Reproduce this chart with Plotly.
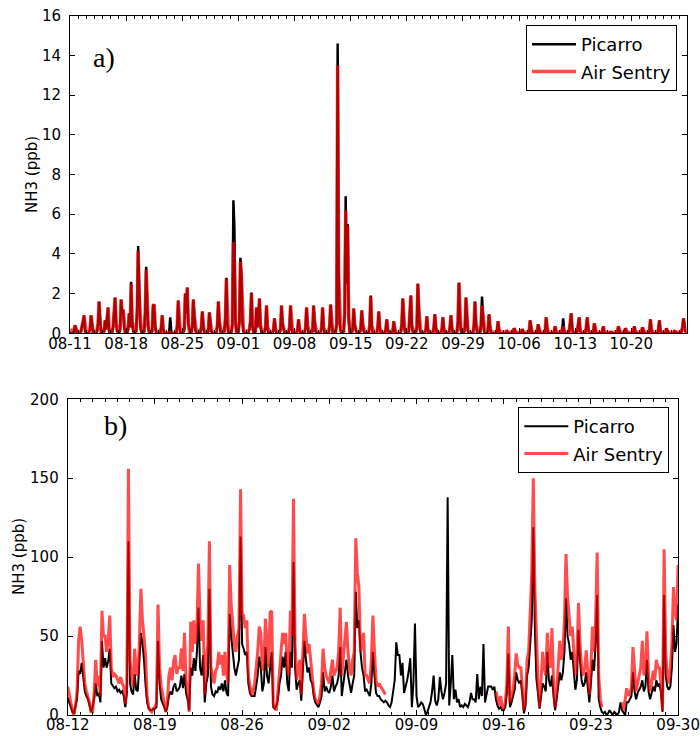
import pandas as pd
import plotly.graph_objects as go

# ---------------------------------------------------------------------------
# NH3 concentrations (ppb), 3-hourly values, one row per day
# columns: 00h 03h 06h 09h 12h 15h 18h 21h
# ---------------------------------------------------------------------------
top_start = "2016-08-11"
bottom_start = "2016-08-12"

top_picarro_rows = [
    [0, 0, 0, 0.05, 0.1, 0.4, 0.1, 0],
    [0, 0, 0, 0.1, 0.3, 0.6, 0.9, 0.1],
    [0, 0, 0, 0.05, 0.2, 0.9, 0.5, 0.05],
    [0, 0, 0, 0.1, 0.5, 1.6, 0.4, 0.05],
    [0, 0, 0.1, 0.65, 0.2, 0.7, 1.3, 0.1],
    [0, 0, 0.05, 0.3, 0.9, 1.8, 0.5, 0.1],
    [0.05, 0, 0.2, 1.7, 1.0, 1.2, 0.3, 0.05],
    [0, 0, 0.2, 1.0, 0.3, 2.6, 0.6, 0.1],
    [0.05, 0, 0.1, 1.2, 4.4, 2.0, 0.5, 0.1],
    [0, 0, 0.1, 1.0, 3.35, 1.5, 0.3, 0.05],
    [0, 0, 0.1, 1.45, 1.4, 0.3, 0.05, 0],
    [0, 0, 0, 0.3, 0.9, 0.2, 0, 0],
    [0, 0, 0, 0.1, 0.8, 0.1, 0, 0],
    [0, 0, 0, 0.4, 1.65, 0.4, 0.05, 0],
    [0, 0, 0.2, 2.0, 1.0, 2.3, 0.5, 0.1],
    [0, 0, 0.3, 1.7, 0.9, 0.2, 0, 0],
    [0, 0, 0, 0.3, 1.1, 0.4, 0, 0],
    [0, 0, 0.1, 1.05, 0.6, 0.1, 0, 0],
    [0, 0, 0, 0.4, 1.6, 0.6, 0.1, 0],
    [0, 0, 0.1, 0.8, 2.8, 0.5, 0.05, 0],
    [0, 0, 0.5, 6.7, 5.3, 0.6, 0.1, 0],
    [0.1, 0.6, 3.8, 2.9, 0.6, 0.1, 0, 0],
    [0, 0, 0.05, 0.2, 0.6, 2.05, 0.4, 0],
    [0, 0.1, 1.3, 0.3, 0.8, 1.75, 0.4, 0],
    [0, 0, 0, 0.3, 1.4, 0.3, 0, 0],
    [0, 0, 0, 0.2, 0.75, 0.2, 0, 0],
    [0, 0, 0.2, 1.4, 0.5, 0.1, 0, 0],
    [0, 0, 0, 0.3, 1.4, 0.3, 0, 0],
    [0, 0, 0, 0.2, 0.7, 0.2, 0, 0],
    [0, 0, 0, 0.3, 1.3, 0.4, 0, 0],
    [0, 0, 0.1, 1.4, 0.6, 0.1, 0, 0],
    [0, 0, 0, 0.3, 1.3, 0.3, 0, 0],
    [0, 0, 0, 0.4, 1.45, 0.5, 0.05, 0],
    [0, 0, 0.5, 14.6, 3.0, 0.5, 0.1, 0],
    [0, 0.1, 1.0, 6.9, 2.5, 5.5, 0.8, 0.1],
    [0, 0, 0.2, 1.25, 0.4, 0.1, 0, 0],
    [0, 0, 0.2, 1.15, 0.5, 0.1, 0, 0],
    [0, 0, 0, 0.4, 1.9, 0.4, 0, 0],
    [0, 0, 0, 0.3, 1.1, 0.3, 0, 0],
    [0, 0, 0, 0.2, 0.7, 0.2, 0, 0],
    [0, 0, 0.1, 0.6, 0.2, 0, 0, 0],
    [0, 0, 0, 0.5, 1.75, 0.6, 0.1, 0],
    [0, 0, 0.1, 1.0, 1.9, 0.4, 0.05, 0],
    [0, 0, 0.3, 2.5, 1.2, 0.2, 0, 0],
    [0, 0, 0, 0.2, 0.85, 0.2, 0, 0],
    [0, 0, 0, 0.3, 0.95, 0.3, 0, 0],
    [0, 0, 0, 0.2, 0.8, 0.2, 0, 0],
    [0, 0, 0, 0.3, 0.9, 0.3, 0, 0],
    [0, 0, 0, 0.6, 2.55, 0.7, 0.1, 0],
    [0, 0, 0.3, 1.8, 0.8, 0.1, 0, 0],
    [0, 0, 0, 0.4, 1.6, 0.5, 0.05, 0],
    [0, 0, 0.4, 1.85, 0.9, 0.1, 0, 0],
    [0, 0.2, 0.95, 0.3, 0.05, 0, 0, 0],
    [0, 0, 0.1, 0.6, 0.2, 0, 0, 0],
    [0, 0, 0, 0.05, 0.1, 0, 0, 0],
    [0, 0, 0, 0.25, 0.1, 0, 0, 0],
    [0, 0, 0, 0.2, 0.1, 0, 0, 0],
    [0, 0, 0, 0.65, 0.3, 0, 0, 0],
    [0, 0, 0, 0.45, 0.2, 0, 0, 0],
    [0, 0, 0.1, 0.8, 0.3, 0, 0, 0],
    [0, 0, 0, 0.1, 0.35, 0.05, 0, 0],
    [0, 0, 0, 0.2, 0.75, 0.1, 0, 0],
    [0, 0, 0.1, 0.5, 1.0, 0.2, 0, 0],
    [0, 0, 0.1, 0.4, 0.8, 0.1, 0, 0],
    [0, 0, 0, 0.3, 0.8, 0.2, 0, 0],
    [0, 0, 0, 0.5, 0.2, 0, 0, 0],
    [0, 0, 0, 0.1, 0.35, 0.05, 0, 0],
    [0, 0, 0, 0.05, 0.05, 0, 0, 0],
    [0, 0, 0, 0.35, 0.1, 0, 0, 0],
    [0, 0, 0.25, 0.1, 0, 0, 0, 0],
    [0, 0, 0.1, 0.35, 0.05, 0, 0, 0],
    [0, 0, 0, 0.3, 0.1, 0, 0, 0],
    [0, 0, 0.1, 0.7, 0.2, 0, 0, 0],
    [0, 0, 0, 0.2, 0.65, 0.1, 0, 0],
    [0, 0, 0, 0.25, 0.05, 0, 0, 0],
    [0, 0, 0, 0.1, 0.05, 0, 0, 0],
    [0, 0, 0.1, 0.3, 0.75, 0.4, 0.1, 0],
]

top_airsentry_rows = [
    [0.2, 0.15, 0.1, 0.15, 0.2, 0.4, 0.2, 0.1],
    [0.1, 0.05, 0.05, 0.1, 0.3, 0.6, 0.9, 0.2],
    [0.1, 0.05, 0.05, 0.1, 0.25, 0.9, 0.5, 0.1],
    [0.1, 0.05, 0.1, 0.15, 0.5, 1.6, 0.4, 0.1],
    [0.1, 0.05, 0.1, 0.65, 0.2, 0.7, 1.3, 0.2],
    [0.1, 0.1, 0.1, 0.3, 0.9, 1.8, 0.5, 0.2],
    [0.1, 0.05, 0.2, 1.7, 1.0, 1.2, 0.4, 0.1],
    [0.1, 0.1, 0.2, 1.0, 0.3, 2.5, 0.6, 0.2],
    [0.1, 0.05, 0.1, 1.1, 4.15, 1.9, 0.5, 0.2],
    [0.1, 0.05, 0.1, 1.0, 3.2, 1.5, 0.35, 0.1],
    [0.1, 0.05, 0.2, 1.4, 1.45, 0.3, 0.1, 0.1],
    [0.1, 0.05, 0.05, 0.3, 0.9, 0.2, 0.05, 0.05],
    [0.02, 0, 0, 0, 0.05, 0, 0, 0],
    [0, 0, 0.05, 0.4, 1.65, 0.4, 0.1, 0.1],
    [0.1, 0.1, 0.2, 2.0, 1.0, 2.3, 0.5, 0.1],
    [0.1, 0.05, 0.3, 1.7, 0.9, 0.3, 0.1, 0.05],
    [0.1, 0.05, 0.1, 0.3, 1.1, 0.4, 0.1, 0.1],
    [0.1, 0.05, 0.15, 1.05, 0.6, 0.15, 0.1, 0.05],
    [0.05, 0.05, 0.1, 0.4, 1.6, 0.6, 0.2, 0.1],
    [0.1, 0.05, 0.1, 0.8, 2.75, 0.5, 0.1, 0.1],
    [0.1, 0.05, 0.5, 4.6, 3.6, 0.6, 0.1, 0.1],
    [0.1, 0.6, 3.6, 2.9, 0.6, 0.2, 0.1, 0.05],
    [0.1, 0.05, 0.1, 0.2, 0.6, 2.0, 0.5, 0.1],
    [0.1, 0.1, 1.3, 0.3, 0.8, 1.75, 0.4, 0.1],
    [0.05, 0.05, 0.05, 0.3, 1.4, 0.35, 0.1, 0.05],
    [0.05, 0.05, 0.05, 0.2, 0.75, 0.2, 0.1, 0.05],
    [0.05, 0.05, 0.2, 1.4, 0.5, 0.15, 0.1, 0.05],
    [0.05, 0.05, 0.1, 0.3, 1.4, 0.35, 0.1, 0.05],
    [0.05, 0.05, 0.05, 0.2, 0.7, 0.2, 0.05, 0.05],
    [0.05, 0.05, 0.05, 0.3, 1.3, 0.4, 0.1, 0.05],
    [0.05, 0.05, 0.15, 1.4, 0.6, 0.15, 0.05, 0.05],
    [0.05, 0.05, 0.05, 0.3, 1.3, 0.3, 0.1, 0.05],
    [0.05, 0.05, 0.1, 0.4, 1.45, 0.5, 0.1, 0.1],
    [0.1, 0.1, 0.5, 13.5, 3.0, 0.5, 0.15, 0.1],
    [0.1, 0.1, 1.0, 6.2, 2.5, 5.4, 0.8, 0.1],
    [0.1, 0.05, 0.2, 1.25, 0.45, 0.1, 0.05, 0.05],
    [0.05, 0.05, 0.2, 1.15, 0.5, 0.15, 0.05, 0.05],
    [0.05, 0.05, 0.05, 0.4, 1.85, 0.4, 0.1, 0.05],
    [0.05, 0.05, 0.05, 0.3, 1.1, 0.3, 0.05, 0.05],
    [0.05, 0.05, 0.05, 0.2, 0.7, 0.2, 0.05, 0.05],
    [0.05, 0.05, 0.1, 0.6, 0.25, 0.05, 0.05, 0.05],
    [0.05, 0.05, 0.1, 0.5, 1.75, 0.6, 0.15, 0.1],
    [0.1, 0.05, 0.1, 1.0, 1.9, 0.4, 0.1, 0.05],
    [0.05, 0.05, 0.3, 2.5, 1.2, 0.25, 0.1, 0.05],
    [0.05, 0.05, 0.05, 0.2, 0.85, 0.2, 0.05, 0.05],
    [0.05, 0.05, 0.05, 0.3, 0.95, 0.3, 0.05, 0.05],
    [0.05, 0.05, 0.05, 0.2, 0.8, 0.25, 0.05, 0.05],
    [0.05, 0.05, 0.05, 0.3, 0.9, 0.3, 0.05, 0.05],
    [0.05, 0.05, 0.1, 0.6, 2.55, 0.7, 0.15, 0.1],
    [0.1, 0.05, 0.3, 1.8, 0.8, 0.15, 0.05, 0.05],
    [0.05, 0.05, 0.05, 0.4, 1.6, 0.5, 0.1, 0.05],
    [0.05, 0.05, 0.4, 1.4, 0.9, 0.15, 0.05, 0.05],
    [0.05, 0.2, 0.95, 0.35, 0.05, 0.05, 0.05, 0.05],
    [0.05, 0.05, 0.1, 0.6, 0.2, 0.05, 0.05, 0.05],
    [0.05, 0.05, 0.05, 0.1, 0.1, 0.05, 0.05, 0.05],
    [0.05, 0.05, 0.05, 0.25, 0.1, 0.05, 0.05, 0.05],
    [0.05, 0.05, 0.05, 0.2, 0.1, 0.05, 0.05, 0.05],
    [0.05, 0.05, 0.1, 0.65, 0.3, 0.05, 0.05, 0.05],
    [0.05, 0.05, 0.05, 0.45, 0.2, 0.05, 0.05, 0.05],
    [0.05, 0.05, 0.1, 0.8, 0.3, 0.05, 0.05, 0.05],
    [0.05, 0.05, 0.05, 0.1, 0.35, 0.1, 0.05, 0.05],
    [0.05, 0.05, 0.05, 0.2, 0.35, 0.1, 0.05, 0.05],
    [0.05, 0.05, 0.1, 0.5, 1.0, 0.2, 0.05, 0.05],
    [0.05, 0.05, 0.1, 0.4, 0.8, 0.15, 0.05, 0.05],
    [0.05, 0.05, 0.05, 0.3, 0.8, 0.2, 0.05, 0.05],
    [0.05, 0.05, 0.05, 0.5, 0.2, 0.05, 0.05, 0.05],
    [0.05, 0.05, 0.05, 0.1, 0.35, 0.1, 0.05, 0.05],
    [0.05, 0.05, 0.05, 0.05, 0.05, 0.05, 0.05, 0.05],
    [0.05, 0.05, 0.05, 0.35, 0.1, 0.05, 0.05, 0.05],
    [0.05, 0.05, 0.25, 0.1, 0.05, 0.05, 0.05, 0.05],
    [0.05, 0.05, 0.1, 0.35, 0.05, 0.05, 0.05, 0.05],
    [0.05, 0.05, 0.05, 0.3, 0.1, 0.05, 0.05, 0.05],
    [0.05, 0.05, 0.1, 0.7, 0.2, 0.05, 0.05, 0.05],
    [0.05, 0.05, 0.05, 0.2, 0.65, 0.1, 0.05, 0.05],
    [0.05, 0.05, 0.05, 0.25, 0.05, 0.05, 0.05, 0.05],
    [0.05, 0.05, 0.05, 0.1, 0.05, 0.05, 0.05, 0.05],
    [0.05, 0.05, 0.1, 0.3, 0.75, 0.4, 0.1, 0.05],
]

bottom_picarro_rows = [
    [11, 8, 6, 2, 1, 5, 10, 28],
    [26, 33, 22, 15, 12, 10, 6, 2],
    [5, 10, 20, 12, 14, 8, 47, 30],
    [36, 30, 34, 42, 20, 18, 17, 18],
    [15, 16, 14, 15, 12, 5, 14, 110],
    [20, 15, 13, 26, 16, 15, 30, 52],
    [45, 35, 19, 8, 4, 3, 3, 4],
    [4, 5, 47, 20, 10, 8, 5, 2],
    [5, 12, 15, 13, 18, 20, 15, 16],
    [18, 25, 17, 26, 14, 10, 3, 30],
    [25, 36, 28, 40, 68, 30, 25, 38],
    [8, 20, 25, 80, 18, 13, 12, 15],
    [14, 18, 16, 20, 15, 22, 14, 12],
    [64, 50, 40, 30, 25, 30, 35, 113],
    [45, 42, 38, 40, 20, 14, 12, 12],
    [12, 18, 25, 37, 30, 15, 20, 43],
    [25, 20, 32, 40, 5, 4, 6, 10],
    [20, 25, 37, 30, 40, 20, 15, 40],
    [30, 97, 30, 16, 20, 22, 9, 25],
    [47, 35, 27, 30, 22, 20, 12, 8],
    [6, 5, 8, 12, 27, 15, 18, 15],
    [14, 18, 25, 15, 18, 20, 25, 43],
    [12, 20, 28, 35, 25, 18, 14, 20],
    [25, 78, 55, 60, 40, 30, 25, 15],
    [16, 14, 12, 20, 40, 25, 14, 12],
    [12, 10, 9, 8, 9, 8, 6, 5],
    [8, 16, 22, 46, 38, 38, 25, 33],
    [14, 18, 22, 28, 36, 5, 20, 58],
    [12, 5, 6, 8, 7, 4, 0, 2],
    [5, 8, 15, 25, 9, 6, 10, 24],
    [15, 10, 14, 20, 138, 6, 20, 38],
    [10, 16, 8, 10, 5, 6, 5, 7],
    [6, 5, 8, 14, 10, 10, 8, 26],
    [10, 18, 12, 45, 8, 14, 18, 18],
    [18, 16, 18, 10, 6, 4, 5, 3],
    [3, 5, 14, 39, 5, 8, 12, 16],
    [27, 22, 20, 22, 12, 1, 6, 25],
    [30, 45, 60, 119, 55, 23, 12, 4],
    [12, 20, 18, 15, 40, 22, 18, 25],
    [12, 3, 10, 18, 27, 22, 27, 40],
    [74, 50, 45, 35, 40, 28, 16, 22],
    [54, 35, 22, 18, 20, 27, 15, 8],
    [20, 35, 28, 45, 76, 10, 5, 2],
    [1, 2, 0, 1, 3, 1, 0, 2],
    [1, 0, 2, 8, 3, 1, 0, 8],
    [8, 10, 12, 27, 15, 10, 14, 16],
    [18, 22, 15, 18, 35, 15, 10, 14],
    [18, 15, 22, 18, 20, 14, 2, 76],
    [25, 18, 16, 18, 30, 57, 40, 45],
    [70],
]

N = None  # no Air Sentry record
bottom_airsentry_rows = [
    [18, 12, 8, 3, 0, 6, 15, 47],
    [56, 47, 30, 20, 15, 12, 8, 2],
    [2, 15, 35, 18, 25, 12, 66, 50],
    [50, 40, 47, 63, 30, 24, 26, 25],
    [22, 20, 24, 20, 18, 7, 20, 156],
    [35, 24, 18, 42, 28, 25, 45, 80],
    [60, 50, 38, 12, 5, 3, 2, 4],
    [5, 8, 70, 30, 18, 13, 6, 2],
    [8, 25, 30, 22, 34, 38, 26, 30],
    [30, 42, 28, 52, 22, 17, 2, 59],
    [40, 60, 45, 55, 96, 60, 47, 60],
    [13, 35, 45, 110, 30, 25, 20, 28],
    [30, 40, 32, 38, 25, 40, 26, 20],
    [95, 70, 57, 45, 40, 50, 55, 143],
    [64, 63, 55, 60, 25, 18, 12, 15],
    [20, 30, 40, 56, 52, 28, 35, 61],
    [45, 30, 65, 66, 7, 5, 3, 15],
    [30, 40, 52, 45, 52, 30, 25, 66],
    [50, 137, 45, 22, 30, 35, 13, 40],
    [64, 50, 39, 45, 35, 28, 15, 10],
    [8, 7, 12, 20, 42, 30, 25, 22],
    [20, 28, 35, 25, 28, 30, 40, 68],
    [25, 35, 45, 59, 40, 30, 25, 35],
    [40, 112, 90, 81, 40, 45, 52, 25],
    [25, 22, 20, 35, 63, 40, 22, 18],
    [20, 18, 16, 14, 13, N, N, N],
    [N, N, N, N, N, N, N, N],
    [N, N, N, N, N, N, N, N],
    [N, N, N, N, N, N, N, N],
    [N, N, N, N, N, N, N, N],
    [N, N, N, N, N, N, N, N],
    [N, N, N, N, N, N, N, N],
    [N, N, N, N, N, N, N, N],
    [N, N, N, N, N, N, N, N],
    [N, N, N, 15, 10, 6, 12, 5],
    [4, 8, 20, 56, 8, 12, 16, 25],
    [39, 32, 30, 30, 15, 3, 10, 35],
    [40, 62, 90, 150, 80, 52, 20, 5],
    [20, 40, 30, 25, 52, 35, 30, 55],
    [20, 5, 15, 30, 47, 35, 40, 60],
    [102, 75, 59, 50, 56, 40, 25, 35],
    [71, 45, 30, 25, 30, 41, 25, 13],
    [30, 56, 40, 60, 103, 25, 10, 5],
    [N, N, N, N, N, N, N, N],
    [N, N, N, N, 8, 3, 10, 17],
    [12, 15, 17, 43, 25, 15, 20, 26],
    [30, 47, 25, 30, 53, 25, 15, 20],
    [28, 22, 35, 30, 30, 20, 3, 105],
    [40, 25, 20, 30, 45, 81, 66, 60],
    [95],
]

top_tick_labels = ["08-11", "08-18", "08-25", "09-01", "09-08", "09-15",
                   "09-22", "09-29", "10-06", "10-13", "10-20"]
bottom_tick_labels = ["08-12", "08-19", "08-26", "09-02", "09-09", "09-16",
                      "09-23", "09-30"]
top_yticks = [0, 2, 4, 6, 8, 10, 12, 14, 16]
bottom_yticks = [0, 50, 100, 150, 200]


def flatten(rows):
    return [v for row in rows for v in row]


top_p = flatten(top_picarro_rows)
top_a = flatten(top_airsentry_rows)
top_t = pd.date_range(top_start, periods=len(top_p), freq="3h")

bot_p = flatten(bottom_picarro_rows)
bot_a = flatten(bottom_airsentry_rows)
bot_t = pd.date_range(bottom_start, periods=len(bot_p), freq="3h")

BLACK = "#000000"
RED = "#ff0000"

fig = go.Figure()

# panel a)
fig.add_trace(go.Scatter(x=top_t, y=top_p, mode="lines", name="Picarro",
                         line=dict(color=BLACK, width=2.5), legendgroup="a1",
                         xaxis="x", yaxis="y", legend="legend"))
fig.add_trace(go.Scatter(x=top_t, y=top_a, mode="lines", name="Air Sentry",
                         line=dict(color=RED, width=3.5), opacity=0.7, legendgroup="a2",
                         xaxis="x", yaxis="y", legend="legend"))
# panel b)
fig.add_trace(go.Scatter(x=bot_t, y=bot_p, mode="lines", name="Picarro",
                         line=dict(color=BLACK, width=2), legendgroup="b1",
                         xaxis="x2", yaxis="y2", legend="legend2"))
fig.add_trace(go.Scatter(x=bot_t, y=bot_a, mode="lines", name="Air Sentry",
                         line=dict(color=RED, width=3), opacity=0.7, legendgroup="b2",
                         xaxis="x2", yaxis="y2", legend="legend2"))

W, H = 700, 736
FONT = "DejaVu Sans"
tick_font = dict(family=FONT, size=15, color="black")

axis_style = dict(
    showline=True, linecolor="black", linewidth=1, mirror="ticks",
    ticks="inside", ticklen=5, tickwidth=1, tickcolor="black",
    showgrid=False, zeroline=False, tickfont=tick_font, automargin=False,
)
minor_style = dict(ticks="inside", ticklen=3, tickwidth=1, tickcolor="black",
                   dtick=86400000, showgrid=False)


def tick_dates(labels):
    return [pd.Timestamp(f"2016-{lbl}") for lbl in labels]


legend_style = dict(xanchor="right", yanchor="top", bgcolor="white",
                    bordercolor="black", borderwidth=1, tracegroupgap=1,
                    itemwidth=44,
                    font=dict(family=FONT, size=18, color="black"))

fig.update_layout(
    template="none",
    width=W, height=H,
    margin=dict(l=0, r=0, t=0, b=0, autoexpand=False),
    paper_bgcolor="white", plot_bgcolor="white",
    font=dict(family=FONT, color="black"),
    xaxis=dict(axis_style, domain=[70 / W, 686.5 / W], anchor="y", type="date",
               range=[top_t[0], top_t[-1]], ticklabelstandoff=-3,
               tickvals=tick_dates(top_tick_labels), ticktext=top_tick_labels,
               minor=dict(minor_style, tick0=top_start)),
    yaxis=dict(axis_style, domain=[1 - 333.3 / H, 1 - 15.7 / H], anchor="x",
               range=[0, 16], tickvals=top_yticks, ticklabelstandoff=5),
    xaxis2=dict(axis_style, domain=[67.7 / W, 678.3 / W], anchor="y2", type="date",
                range=[bot_t[0], pd.Timestamp("2016-09-30 00:20")], ticklabelstandoff=-4,
                tickvals=tick_dates(bottom_tick_labels), ticktext=bottom_tick_labels,
                minor=dict(minor_style, tick0=bottom_start)),
    yaxis2=dict(axis_style, domain=[1 - 715 / H, 1 - 399.3 / H], anchor="x2",
                range=[0, 200], tickvals=bottom_yticks, ticklabelstandoff=5),
    legend=dict(legend_style, x=677 / W, y=1 - 25 / H),
    legend2=dict(legend_style, x=669.3 / W, y=1 - 407 / H),
    showlegend=True,
)

# y-axis titles and panel letters
fig.add_annotation(text="NH3 (ppb)", x=32 / W, y=1 - 175 / H, xref="paper", yref="paper",
                   textangle=-90, showarrow=False, xanchor="center", yanchor="middle",
                   font=dict(family=FONT, size=15, color="black"))
fig.add_annotation(text="NH3 (ppb)", x=19 / W, y=1 - 557 / H, xref="paper", yref="paper",
                   textangle=-90, showarrow=False, xanchor="center", yanchor="middle",
                   font=dict(family=FONT, size=15, color="black"))
fig.add_annotation(text="a)", x=104 / W, y=1 - 57 / H, xref="paper", yref="paper",
                   showarrow=False, xanchor="center", yanchor="middle",
                   font=dict(family="Liberation Serif", size=28, color="black"))
fig.add_annotation(text="b)", x=116 / W, y=1 - 425 / H, xref="paper", yref="paper",
                   showarrow=False, xanchor="center", yanchor="middle",
                   font=dict(family="Liberation Serif", size=28, color="black"))

fig.write_html("out.html")
